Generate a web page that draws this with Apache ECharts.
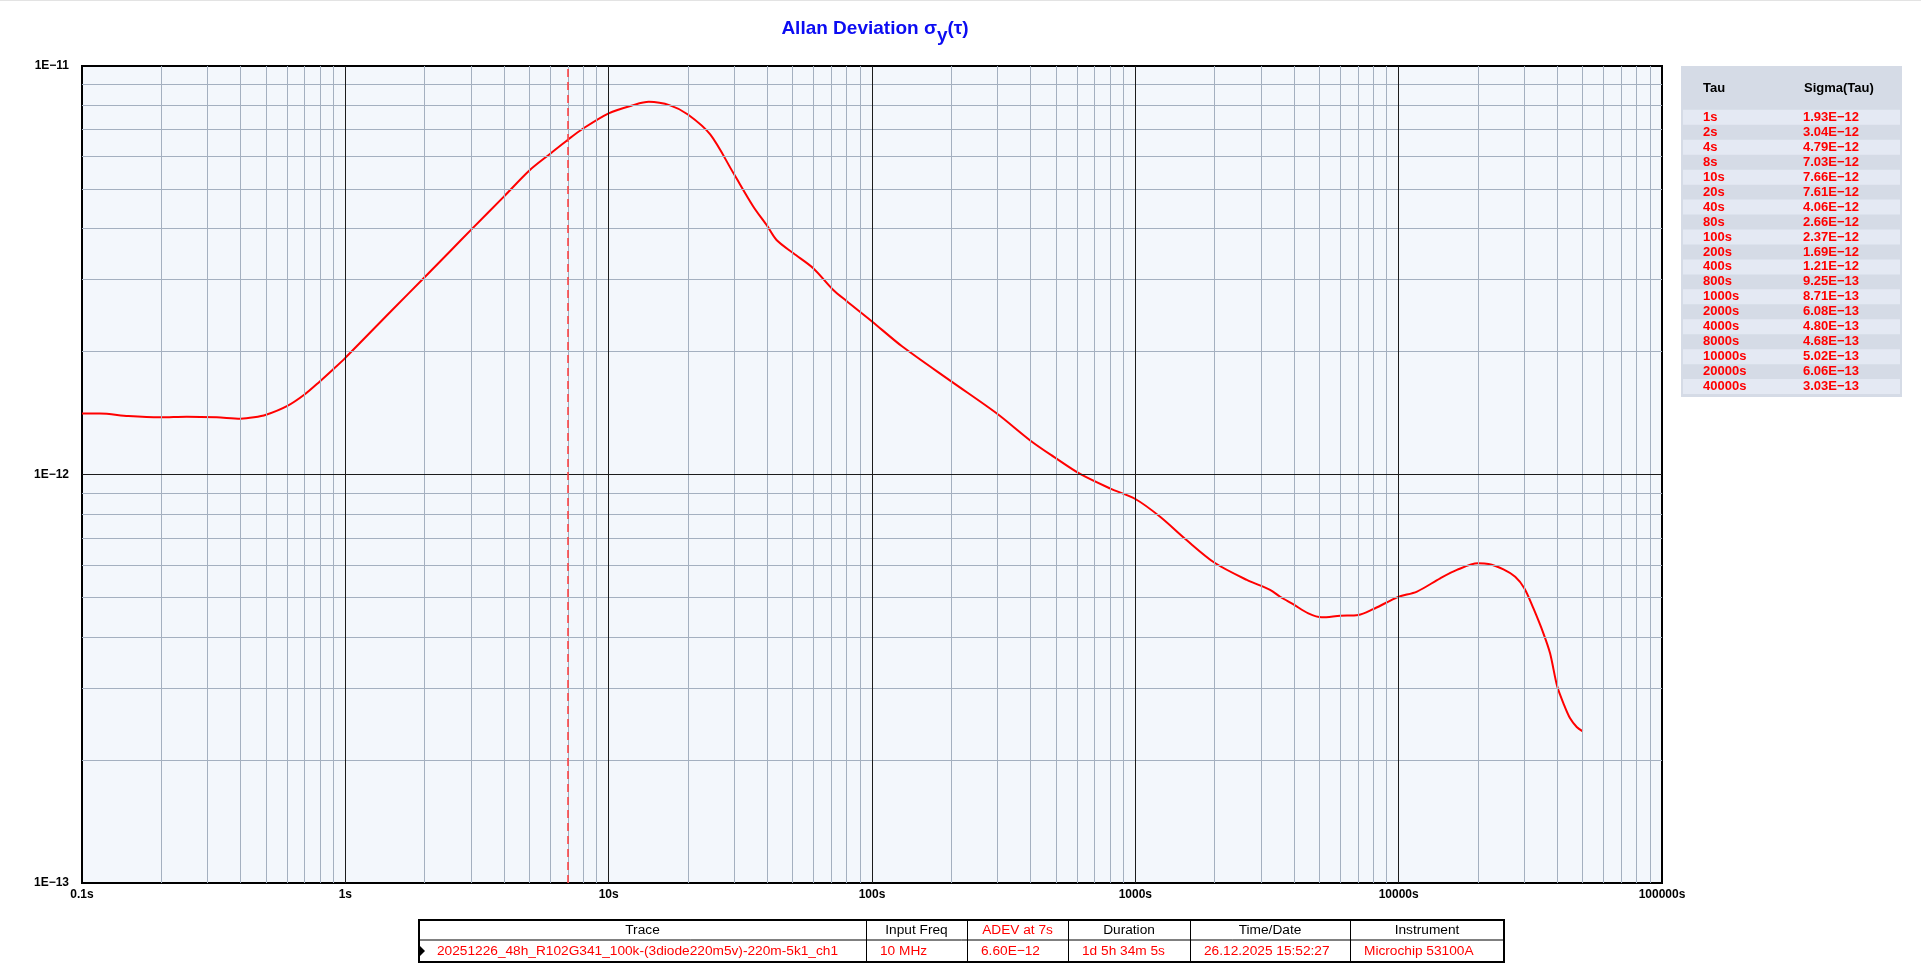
<!DOCTYPE html>
<html>
<head>
<meta charset="utf-8">
<script src="https://cdn.jsdelivr.net/npm/echarts@6/dist/echarts.min.js"></script>
<style>
html,body{margin:0;padding:0;background:#fff;}
#chart{width:1921px;height:976px;}
</style>
</head>
<body>
<div id="chart"></div>
<script>
// ---- data ----
const adevTau = [0.1, 0.117, 0.15, 0.198, 0.25, 0.325, 0.4, 0.45, 0.5, 0.6, 0.7, 0.8, 0.9, 1.0, 1.5, 2.0, 2.5, 3.0, 4.0, 5.0, 6.0, 7.0, 8.0, 10, 12.4, 14.2, 17.2, 20, 24.3, 29.8, 35.4, 40, 43.4, 50.3, 59.8, 71.3, 80, 100, 130, 200, 298, 400, 489, 617, 800, 1000, 1242, 1565, 2000, 2651, 3248, 3548, 4000, 4540, 5100, 6000, 7030, 8000, 9000, 10000, 11740, 14380, 16640, 20000, 21930, 25000, 27700, 30000, 32500, 35480, 37580, 40000, 42270, 44770, 47440, 50000];
const adevSigma = [1.41e-12, 1.41e-12, 1.39e-12, 1.38e-12, 1.385e-12, 1.38e-12, 1.37e-12, 1.38e-12, 1.40e-12, 1.47e-12, 1.57e-12, 1.69e-12, 1.81e-12, 1.93e-12, 2.52e-12, 3.04e-12, 3.52e-12, 3.97e-12, 4.79e-12, 5.55e-12, 6.10e-12, 6.60e-12, 7.03e-12, 7.66e-12, 8.02e-12, 8.17e-12, 8.0e-12, 7.61e-12, 6.80e-12, 5.46e-12, 4.53e-12, 4.06e-12, 3.75e-12, 3.48e-12, 3.20e-12, 2.83e-12, 2.66e-12, 2.37e-12, 2.06e-12, 1.69e-12, 1.41e-12, 1.21e-12, 1.106e-12, 1.003e-12, 9.25e-13, 8.71e-13, 7.88e-13, 6.91e-13, 6.08e-13, 5.52e-13, 5.22e-13, 5.02e-13, 4.80e-13, 4.57e-13, 4.47e-13, 4.51e-13, 4.53e-13, 4.68e-13, 4.86e-13, 5.02e-13, 5.17e-13, 5.57e-13, 5.84e-13, 6.06e-13, 6.04e-13, 5.86e-13, 5.62e-13, 5.27e-13, 4.70e-13, 4.08e-13, 3.65e-13, 3.03e-13, 2.75e-13, 2.53e-13, 2.41e-13, 2.35e-13];
const markerTau = 7;
const xTickLabels = ['0.1s', '1s', '10s', '100s', '1000s', '10000s', '100000s'];
const yTickLabels = ['1E\u221213', '1E\u221212', '1E\u221211'];
const tableTau = ['1s','2s','4s','8s','10s','20s','40s','80s','100s','200s','400s','800s','1000s','2000s','4000s','8000s','10000s','20000s','40000s'];
const tableSigma = ['1.93E\u221212','3.04E\u221212','4.79E\u221212','7.03E\u221212','7.66E\u221212','7.61E\u221212','4.06E\u221212','2.66E\u221212','2.37E\u221212','1.69E\u221212','1.21E\u221212','9.25E\u221213','8.71E\u221213','6.08E\u221213','4.80E\u221213','4.68E\u221213','5.02E\u221213','6.06E\u221213','3.03E\u221213'];
const infoHeaders = ['Trace', 'Input Freq', 'ADEV at 7s', 'Duration', 'Time/Date', 'Instrument'];
const infoValues = ['20251226_48h_R102G341_100k-(3diode220m5v)-220m-5k1_ch1', '10 MHz', '6.60E\u221212', '1d 5h 34m 5s', '26.12.2025 15:52:27', 'Microchip 53100A'];

// ---- build ----
const FONT = '"Liberation Sans", Arial, sans-serif';
const curve = adevTau.map((t, i) => [t, adevSigma[i]]);
const X0 = 0.1, X1 = 100000, Y0 = 1e-13, Y1 = 1e-11;

const xMinor = [], yMinor = [];
for (let k = -1; k <= 4; k++) for (let m = 2; m <= 9; m++) xMinor.push(Number((m * Math.pow(10, k)).toPrecision(3)));
for (let k = -13; k <= -12; k++) for (let m = 2; m <= 9; m++) yMinor.push(Number((m * Math.pow(10, k)).toPrecision(3)));
const xMajor = [1, 10, 100, 1000, 10000];
const yMajor = [1e-12];
const vLine = v => [{ coord: [v, Y0] }, { coord: [v, Y1] }];
const hLine = v => [{ coord: [X0, v] }, { coord: [X1, v] }];

const G = { left: 82, top: 66, width: 1580, height: 817 };

const graphics = [];
graphics.push({ type: 'rect', shape: { x: 0, y: 0, width: 1921, height: 1 }, style: { fill: '#e3e3e3' }, silent: true });
graphics.push({
  type: 'text', x: 875, y: 32, silent: true,
  style: {
    text: '{a|Allan Deviation \u03c3}{s|y}{a|(\u03c4)}',
    align: 'center', verticalAlign: 'middle',
    rich: {
      a: { fontSize: 19, fontWeight: 'bold', fontFamily: FONT, fill: '#0c0cf2', lineHeight: 26, verticalAlign: 'top' },
      s: { fontSize: 19, fontWeight: 'bold', fontFamily: FONT, fill: '#0c0cf2', lineHeight: 26, verticalAlign: 'bottom' }
    }
  }
});
const TX = 1681, TY = 66, TW = 221, TH = 331;
graphics.push({ type: 'rect', shape: { x: TX, y: TY, width: TW, height: TH }, style: { fill: '#d5dbe6' }, silent: true });
graphics.push({ type: 'text', x: 1703, y: 88, style: { text: 'Tau', fontSize: 13, fontWeight: 'bold', fontFamily: FONT, fill: '#000', verticalAlign: 'middle' }, silent: true });
graphics.push({ type: 'text', x: 1804, y: 88, style: { text: 'Sigma(Tau)', fontSize: 13, fontWeight: 'bold', fontFamily: FONT, fill: '#000', verticalAlign: 'middle' }, silent: true });
tableTau.forEach((t, i) => {
  const cy = 117.3 + i * 14.96;
  if (i % 2 === 0) graphics.push({ type: 'rect', shape: { x: TX + 2, y: cy - 7.5, width: TW - 4, height: 15 }, style: { fill: '#e4e9f3' }, silent: true });
  graphics.push({ type: 'text', x: 1703, y: cy, style: { text: t, fontSize: 13, fontWeight: 'bold', fontFamily: FONT, fill: '#ff0000', verticalAlign: 'middle' }, silent: true });
  graphics.push({ type: 'text', x: 1803, y: cy, style: { text: tableSigma[i], fontSize: 13, fontWeight: 'bold', fontFamily: FONT, fill: '#ff0000', verticalAlign: 'middle' }, silent: true });
});
const BX = [419, 866, 967, 1068, 1190, 1350, 1504];
const BY0 = 920, BY1 = 940, BY2 = 962;
graphics.push({ type: 'rect', shape: { x: BX[0], y: BY0, width: BX[6] - BX[0], height: BY2 - BY0 }, style: { fill: '#fff', stroke: '#000', lineWidth: 2 }, silent: true });
graphics.push({ type: 'line', shape: { x1: BX[0], y1: BY1, x2: BX[6], y2: BY1 }, style: { stroke: '#000', lineWidth: 1 }, silent: true });
for (let c = 1; c < 6; c++) graphics.push({ type: 'line', shape: { x1: BX[c] + 0.5, y1: BY0, x2: BX[c] + 0.5, y2: BY2 }, style: { stroke: '#000', lineWidth: 1 }, silent: true });
infoHeaders.forEach((h, c) => {
  graphics.push({ type: 'text', x: (BX[c] + BX[c + 1]) / 2, y: (BY0 + BY1) / 2 + 0.5, style: { text: h, fontSize: 13.7, fontFamily: FONT, fill: c === 2 ? '#ff0000' : '#000', align: 'center', verticalAlign: 'middle' }, silent: true });
  graphics.push({ type: 'text', x: BX[c] + (c === 0 ? 18 : 14), y: (BY1 + BY2) / 2 + 0.5, style: { text: infoValues[c], fontSize: 13.7, fontFamily: FONT, fill: '#ff0000', align: 'left', verticalAlign: 'middle' }, silent: true });
});
graphics.push({ type: 'polygon', shape: { points: [[420, 946], [425, 951], [420, 956]] }, style: { fill: '#000' }, silent: true });

const gridSeries = (name, z, color, lines, type, width) => ({
  name, type: 'line', data: [[1, 1e-12]], showSymbol: false, symbol: 'none',
  lineStyle: { width: 0, opacity: 0 }, silent: true, z,
  markLine: {
    silent: true, symbol: ['none', 'none'], label: { show: false }, animation: false,
    lineStyle: { type: type, color: color, width: width },
    emphasis: { disabled: true },
    data: lines
  }
});

const option = {
  animation: false,
  backgroundColor: '#ffffff',
  textStyle: { fontFamily: FONT },
  grid: { left: G.left, top: G.top, width: G.width, height: G.height, show: true, backgroundColor: '#f3f7fc', borderColor: '#000', borderWidth: 2, z: 0 },
  xAxis: {
    type: 'log', logBase: 10, min: X0, max: X1,
    axisLine: { show: false }, axisTick: { show: false }, splitLine: { show: false },
    axisLabel: {
      show: true, margin: 6, color: '#000', fontSize: 12, fontWeight: 'bold', fontFamily: FONT,
      showMinLabel: true, showMaxLabel: true,
      formatter: v => xTickLabels[Math.round(Math.log10(v)) + 1] || ''
    }
  },
  yAxis: {
    type: 'log', logBase: 10, min: Y0, max: Y1,
    axisLine: { show: false }, axisTick: { show: false }, splitLine: { show: false },
    axisLabel: {
      show: true, margin: 13, color: '#000', fontSize: 12, fontWeight: 'bold', fontFamily: FONT,
      showMinLabel: true, showMaxLabel: true,
      formatter: v => yTickLabels[Math.round(Math.log10(v)) + 13] || ''
    }
  },
  series: [
    gridSeries('minorGrid', 1, '#a4b0c0', xMinor.map(vLine).concat(yMinor.map(hLine)), 'solid', 1),
    gridSeries('majorGrid', 2, '#1c1c1c', xMajor.map(vLine).concat(yMajor.map(hLine)), 'solid', 1),
    gridSeries('marker', 3, '#ff3a3a', [vLine(markerTau)], [8, 5], 1.5),
    {
      name: 'ADEV', type: 'line', data: curve, smooth: 0.3, showSymbol: false, symbol: 'none',
      lineStyle: { color: '#ff0000', width: 2 }, itemStyle: { color: '#ff0000' }, z: 4, silent: true
    }
  ],
  graphic: graphics
};

const chart = echarts.init(document.getElementById('chart'), null, { renderer: 'canvas' });
chart.setOption(option);
</script>
</body>
</html>
